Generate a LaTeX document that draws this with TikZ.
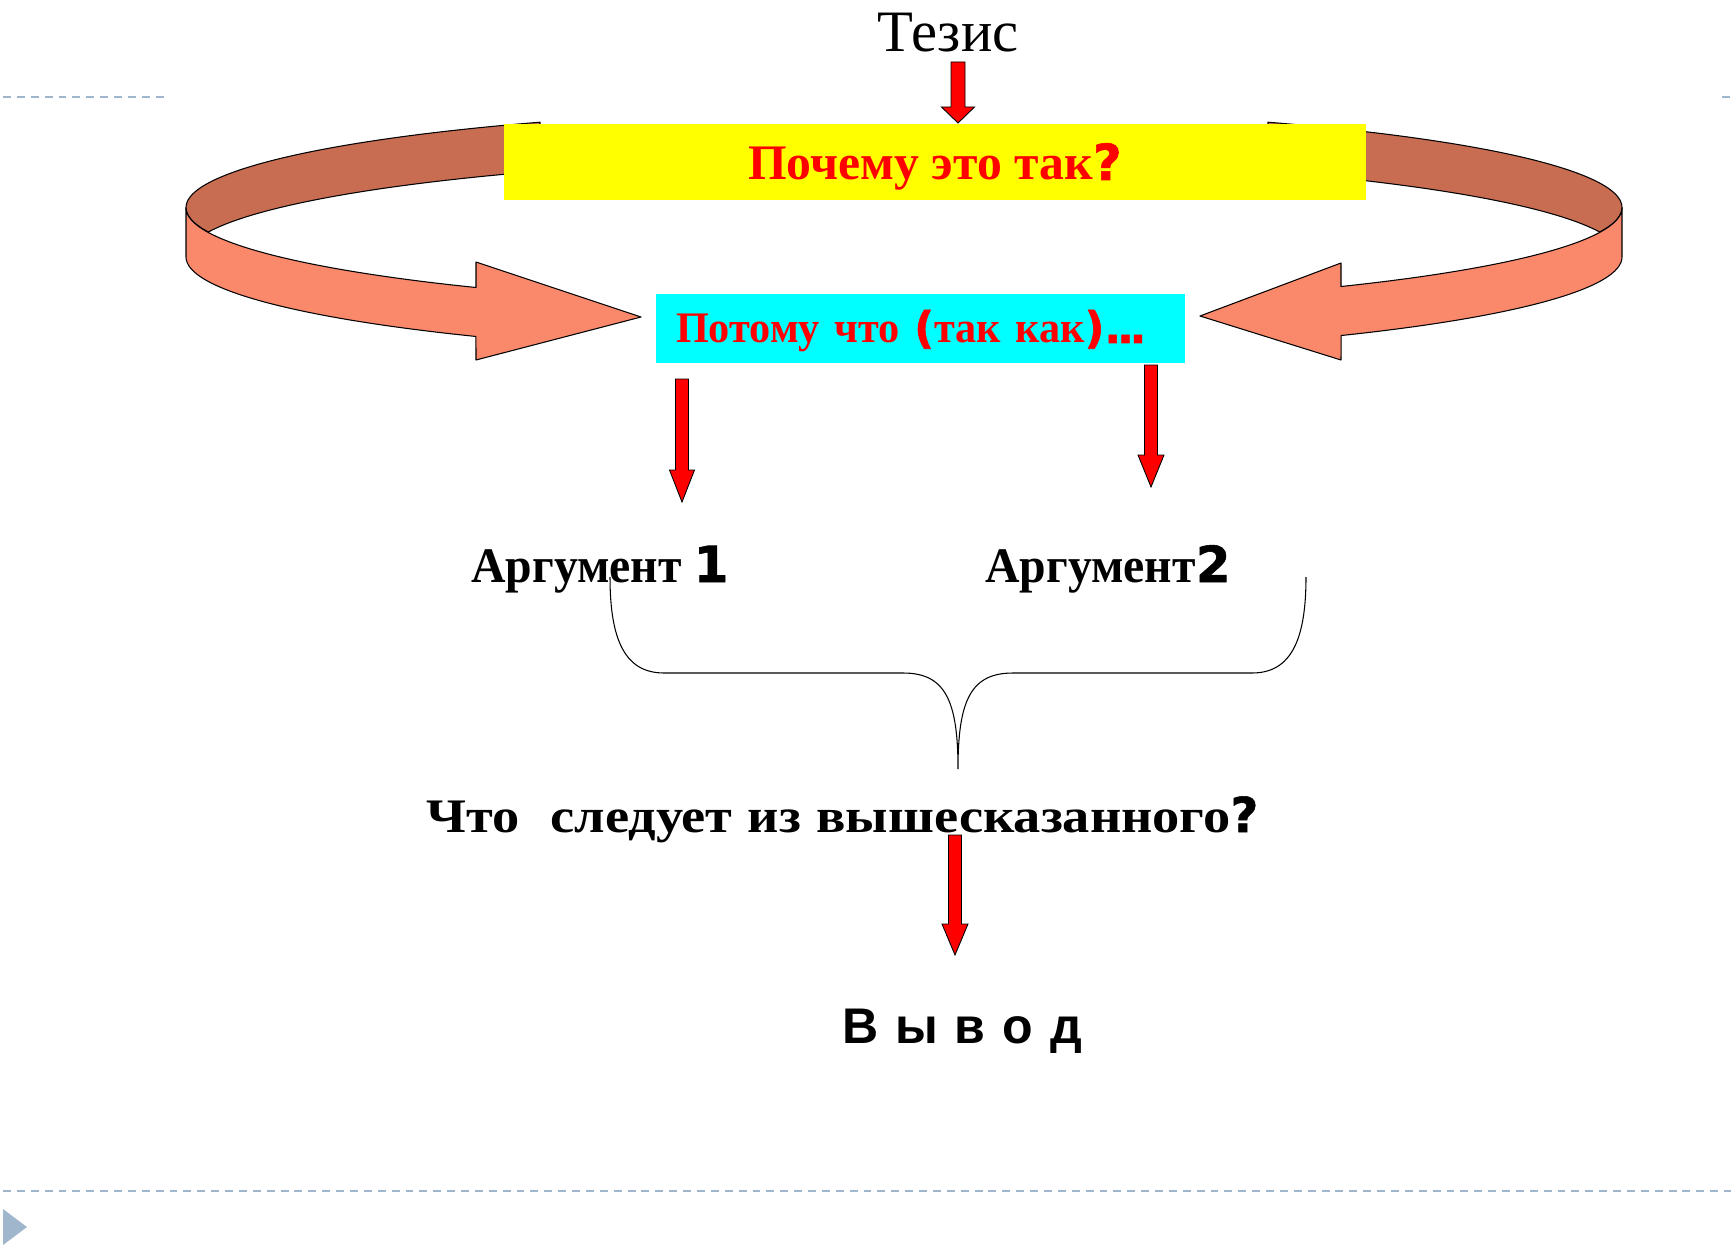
\documentclass[tikz,border=0pt]{standalone}
\usepackage{fontspec}
\setmainfont{Liberation Serif}
\newfontfamily\heavyfont[FakeBold=1.2]{DejaVu Sans Bold}
\newfontfamily\arialfont{Liberation Sans}
\usetikzlibrary{calc}
\definecolor{Guide}{HTML}{A0B6CC}
\definecolor{RibbonBack}{HTML}{C86D51}
\definecolor{RibbonFront}{HTML}{F9896A}
\definecolor{BoxYellow}{HTML}{FFFF00}
\definecolor{BoxCyan}{HTML}{00FFFF}
\definecolor{TextRed}{HTML}{FF0000}
\newcommand\heavy[1]{{\heavyfont #1}}
\newcommand\wordgap[1]{\spaceskip=#1\relax}

\begin{document}
\begin{tikzpicture}[
  x=0.02cm,y=-0.02cm,
  lbl/.style={inner sep=0pt,anchor=base west,font=\bfseries\fontsize{28.3}{34}\selectfont\addfontfeature{FakeStretch=0.96}},
  ybox/.style={fill=BoxYellow,inner xsep=0pt,inner ysep=0pt,minimum width=17.24cm,text height=1.12cm,text depth=0.4cm,align=center,text=TextRed,font=\bfseries\fontsize{28.3}{34}\selectfont},
  cbox/.style={fill=BoxCyan,inner xsep=0.4cm,inner ysep=0pt,text width=9.78cm,text height=0.98cm,text depth=0.4cm,align=left,text=TextRed,font=\bfseries\fontsize{24.8}{30}\selectfont\addfontfeature{FakeStretch=0.97}},
  ribbon/.style={draw=black,line width=0.6pt,line join=round},
  brace/.style={draw=black,line width=0.6pt},
  guide/.style={draw=Guide,line width=1.1pt,dash pattern=on 4.5pt off 3.4pt},
  blockarrow/.style n args={3}{draw=black,fill=TextRed,line width=0.5pt,to path={
    ($(\tikztostart)+(-#1,0)$) -- ($(\tikztotarget)+(-#1,-#3)$) -- ($(\tikztotarget)+(-#2,-#3)$) -- (\tikztotarget)
    -- ($(\tikztotarget)+(#2,-#3)$) -- ($(\tikztotarget)+(#1,-#3)$) -- ($(\tikztostart)+(#1,0)$) -- cycle}}
]
\useasboundingbox (0,0) rectangle (1731,1247);
\draw[guide] (3,97) -- (165,97);
\draw[guide] (1722,97) -- (1731,97);
\draw[guide] (3,1191) -- (1731,1191);
\fill[Guide] (3,1209) -- (27,1227) -- (3,1245) -- cycle;

\draw[ribbon,fill=RibbonBack] (540,122.2) arc[start angle=239.54,end angle=165.67,x radius=718,y radius=99]
  arc[start angle=194.33,end angle=239.54,x radius=718,y radius=99] -- cycle;
\draw[ribbon,fill=RibbonBack] (1268,122.2) arc[start angle=300.46,end angle=374.33,x radius=718,y radius=99]
  arc[start angle=345.67,end angle=300.46,x radius=718,y radius=99] -- cycle;
\draw[ribbon,fill=RibbonFront] (186,208) -- (186,257) arc[start angle=180,end angle=126.6,x radius=718,y radius=99]
  -- (476,360) -- (641,317) -- (476,262) -- (476,287.5) arc[start angle=126.6,end angle=180,x radius=718,y radius=99] -- cycle;
\draw[ribbon,fill=RibbonFront] (1622,208) -- (1622,257) arc[start angle=0,end angle=52.5,x radius=718,y radius=99]
  -- (1341,360) -- (1200,316) -- (1341,263) -- (1341,286.5) arc[start angle=52.5,end angle=0,x radius=718,y radius=99] -- cycle;

\node[lbl,anchor=base,font=\fontsize{33.4}{40}\selectfont] (tezis) at (948,52) {Тезис};
\node[ybox] (why) at (935,162) {Почему это так\heavy{?}};
\node[cbox] (because) at (920.5,328.5) {Потому что \heavy{(}так как\heavy{).\kern-.09em.\kern-.09em.}};
\node[lbl] (arg1) at (471,582) {Аргумент \heavy{1}};
\node[lbl] (arg2) at (985,582) {Аргумент\heavy{2}};
\node[lbl,font=\bfseries\fontsize{27.4}{33}\selectfont\addfontfeature{FakeStretch=1.13}] (what) at (426,832) {\wordgap{8.8pt}Что\ \ следует из вышесказанного\heavy{?}};
\node[lbl,font=\arialfont\bfseries\fontsize{28.5}{34}\selectfont] (concl) at (842,1043) {\wordgap{9.6pt}В ы в о д};

\coordinate (t0) at (958,62);
\coordinate (t1) at (958,123);
\coordinate (p0) at (682,379);
\coordinate (p1) at (682,502);
\coordinate (q0) at (1151,365);
\coordinate (q1) at (1151,487);
\coordinate (w0) at (955,835);
\coordinate (w1) at (955,955);
\draw[blockarrow={7}{16.5}{16}] (t0) to (t1);
\draw[blockarrow={6.5}{12.5}{32}] (p0) to (p1);
\draw[blockarrow={6.5}{13}{32}] (q0) to (q1);
\draw[blockarrow={6.5}{13}{31}] (w0) to (w1);

\coordinate (b1) at (610,577);
\coordinate (b2) at (1306,577);
\coordinate (b0) at (958,769);
\draw[brace] (b1) .. controls (610,640) and (625,673) .. (664,673) -- (903,673) .. controls (945,673) and (958,700) .. (b0)
  .. controls (958,700) and (971,673) .. (1013,673) -- (1252,673) .. controls (1291,673) and (1306,640) .. (b2);
\end{tikzpicture}
\end{document}
